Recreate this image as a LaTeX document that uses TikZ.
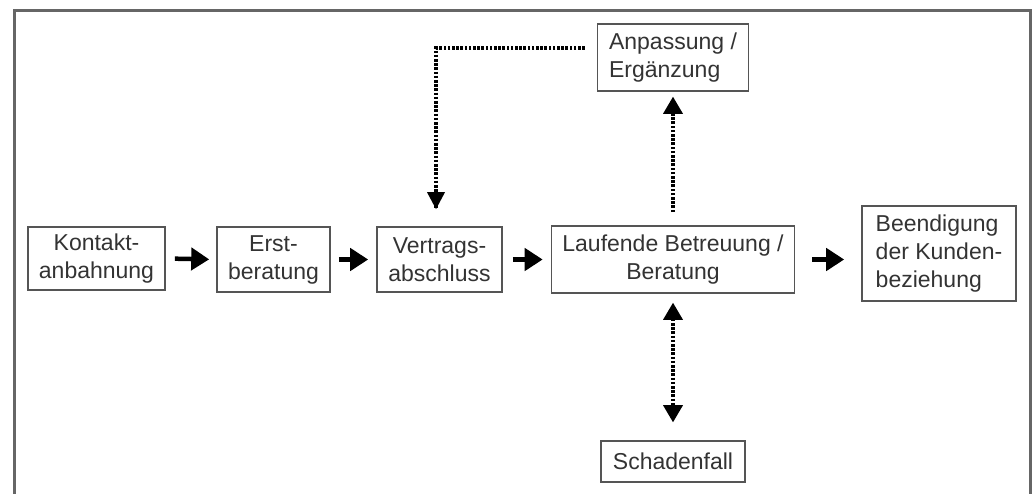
\documentclass[tikz,border=0pt]{standalone}
\usepackage{fontspec}
\setmainfont{Liberation Sans}
\usetikzlibrary{arrows.meta,calc}
\definecolor{txt}{HTML}{333333}
\definecolor{frame}{HTML}{666666}
\definecolor{boxline}{HTML}{555555}
\begin{document}
\begin{tikzpicture}[x=1pt,y=-1pt,
  stage/.style={draw=boxline,line width=1.6pt,inner sep=0pt,text=txt,
    font=\fontsize{23}{28}\selectfont,align=center},
  flow/.style={line width=4.5pt,-{Triangle[length=18pt,width=22pt]}},
  dots/.style={line width=3.4pt,dash pattern=on 2.6pt off 1.6pt,black}
]
\useasboundingbox (0,0) rectangle (1032,493);
\fill[white] (0,0) rectangle (1032,493);
\draw[frame,line width=3pt] (14,498) -- (14,10) -- (1030,10) -- (1030,498);

\node[stage,minimum width=137pt,minimum height=63pt] (k) at (96.5,258.5) {Kontakt-\\anbahnung};
\node[stage,minimum width=113pt,minimum height=65pt] (e) at (273.5,259.5) {Erst-\\beratung};
\node[stage,minimum width=125pt,minimum height=65pt] (v) at (439.5,259.5) {Vertrags-\\abschluss};
\node[stage,minimum width=243pt,minimum height=67pt] (l) at (673,259.5) {Laufende Betreuung /\\Beratung};
\node[stage,minimum width=154pt,minimum height=95pt,align=left] (b) at (939,253.5) {Beendigung\\der Kunden-\\beziehung};
\node[stage,minimum width=151pt,minimum height=67pt,align=left] (a) at (673,57.5) {Anpassung /\\Erg\"anzung};
\node[stage,minimum width=144pt,minimum height=41pt] (s) at (673,461.5) {Schadenfall};

\draw[flow,shorten <=9pt,shorten >=7pt] (k.east) -- (e.west);
\draw[flow,shorten <=8pt,shorten >=8pt] (e.east) -- (v.west);
\draw[flow,shorten <=10pt,shorten >=8pt] (v.east) -- (l.west);
\draw[flow,shorten <=17pt,shorten >=17pt] (l.east) -- (l.east -| b.west);

\coordinate (corner) at (436,48);
\draw[dots] ([xshift=-12pt]a.west |- corner) -- (corner) -- ([yshift=18pt]corner |- v.north);
\fill ($(corner |- v.north)+(0,-17)$) -- ++(-9,-17) -- ++(18,0) -- cycle;

\draw[dots] ([yshift=13pt]l.north) -- ([yshift=-21pt]a.south);
\fill ([yshift=-5pt]a.south) -- ++(-10,17) -- ++(20,0) -- cycle;

\draw[dots] ([yshift=-25pt]l.south) -- ([yshift=34pt]s.north);
\fill ([yshift=-9pt]l.south) -- ++(-10,17) -- ++(20,0) -- cycle;
\fill ([yshift=18pt]s.north) -- ++(-10,-17) -- ++(20,0) -- cycle;
\end{tikzpicture}
\end{document}
